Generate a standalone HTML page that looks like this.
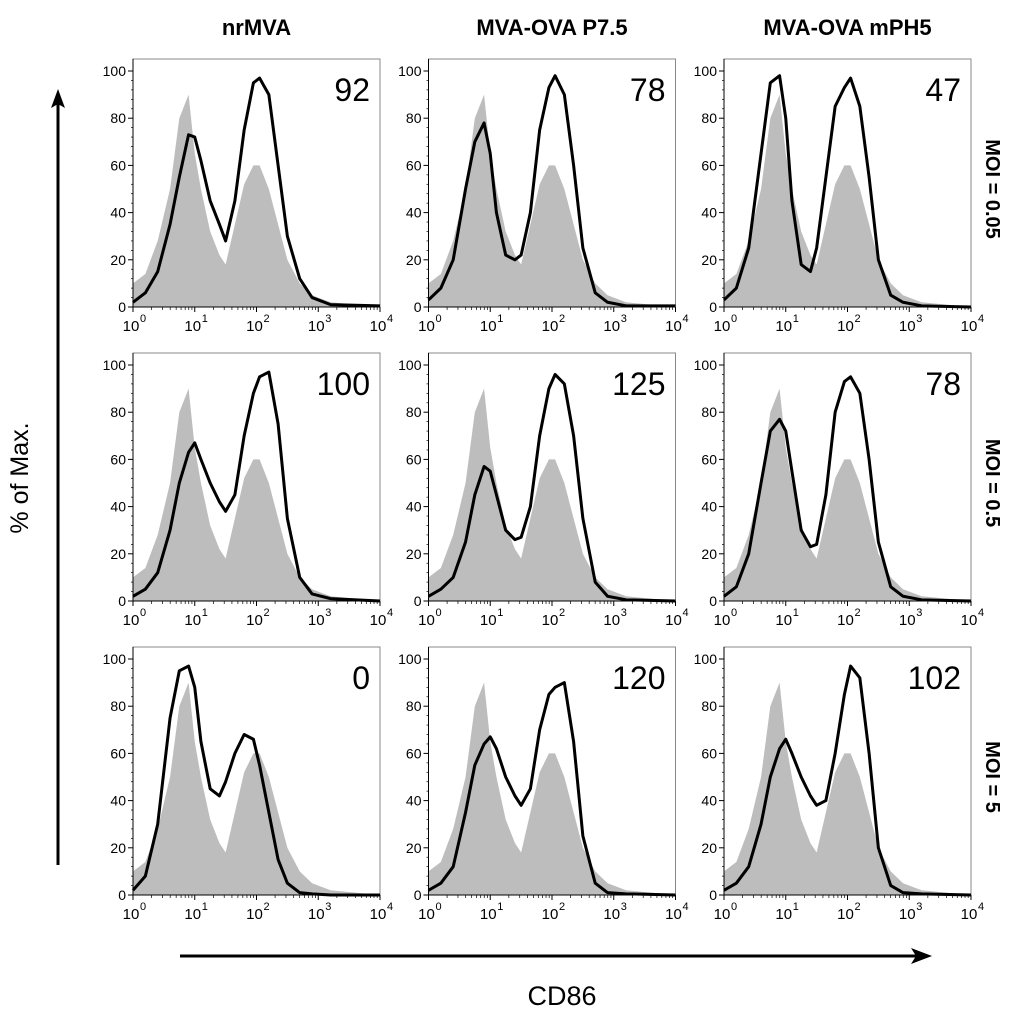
<!DOCTYPE html>
<html><head><meta charset="utf-8"><style>
body{margin:0;background:#fff;}
svg{display:block;font-family:"Liberation Sans",Arial,sans-serif;}
</style></head><body>
<svg id="c" width="1024" height="1017" viewBox="0 0 1024 1017"></svg>
<script>
const colTitles=["nrMVA","MVA-OVA P7.5","MVA-OVA mPH5"];
const rowTitles=["MOI = 0.05","MOI = 0.5","MOI = 5"];
const panelValues=[["92","78","47"],["100","125","78"],["0","120","102"]];
const logX=[0,0.2,0.4,0.6,0.75,0.9,1.0,1.1,1.25,1.4,1.5,1.65,1.8,1.95,2.05,2.2,2.35,2.5,2.7,2.9,3.2,4];
const grayY=[10,14,28,50,80,90,65,50,32,22,18,35,52,60,60,50,35,20,10,5,2,0];
const black_r0c0=[2,6,15,35,55,73,72,62,45,35,28,45,75,95,97,90,60,30,12,4,1,0.5];
const black_r0c1=[3,8,20,50,70,78,65,40,22,20,22,40,75,93,98,90,60,25,6,2,0.5,0.5];
const black_r0c2=[3,8,25,65,95,98,80,45,18,15,25,55,85,93,97,85,55,20,5,2,0.5,0];
const black_r1c0=[2,5,12,30,50,63,67,60,50,42,38,45,70,88,95,97,75,35,10,3,1,0];
const black_r1c1=[2,5,10,25,45,57,55,45,30,26,27,40,70,90,96,92,70,35,8,2,0.5,0];
const black_r1c2=[2,6,20,50,72,77,72,55,30,23,24,45,80,93,95,88,60,25,6,2,0.5,0];
const black_r2c0=[2,8,30,75,95,97,88,65,45,42,48,60,68,66,55,35,15,5,1,0.5,0,0];
const black_r2c1=[2,5,12,35,55,64,67,62,50,42,38,45,70,85,88,90,65,25,5,1,0.5,0];
const black_r2c2=[2,5,12,30,50,62,66,60,50,42,38,40,60,85,97,92,60,20,4,1,0.5,0];
const blackSeries=[[black_r0c0,black_r0c1,black_r0c2],[black_r1c0,black_r1c1,black_r1c2],[black_r2c0,black_r2c1,black_r2c2]];
const yTicks=[0,20,40,60,80,100];
const xTicks=[0,1,2,3,4];

const NS="http://www.w3.org/2000/svg";
const svg=document.getElementById('c');
function mk(tag,attrs,parent){const e=document.createElementNS(NS,tag);for(const k in attrs)e.setAttribute(k,attrs[k]);(parent||svg).appendChild(e);return e;}
const colX=[133,428.5,724], rowY0=[307,601,895], PW=247, FRAMEH=248, YS=2.36;

colTitles.forEach((t,i)=>{const e=mk('text',{x:colX[i]+PW/2,y:35,'text-anchor':'middle','font-size':22,'font-weight':'bold'});e.textContent=t;

});
rowTitles.forEach((t,i)=>{const cy=rowY0[i]-118;const e=mk('text',{x:0,y:0,'text-anchor':'middle','font-size':20,'font-weight':'bold',transform:`translate(986,${cy}) rotate(90)`});e.textContent=t;

});

for(let r=0;r<3;r++)for(let c=0;c<3;c++){
  const g=mk('g',{});
  
  
  const x0=colX[c], y0=rowY0[r];
  const sx=v=>x0+v*PW/4, sy=v=>y0-v*YS;
  mk('rect',{x:x0,y:y0-FRAMEH,width:PW,height:FRAMEH,fill:'#fff',stroke:'#888','stroke-width':1},g);
  let d=`M${sx(0)},${sy(0)}`;logX.forEach((v,i)=>d+=` L${sx(v)},${sy(grayY[i])}`);d+=` L${sx(4)},${sy(0)}Z`;
  const gp=mk('path',{d,fill:'#bdbdbd',stroke:'none'},g);
  
  
  const bs=blackSeries[r][c];let d2='';logX.forEach((v,i)=>d2+=(i?' L':'M')+sx(v)+','+sy(bs[i]));
  const bp=mk('path',{d:d2,fill:'none',stroke:'#000','stroke-width':3,'stroke-linejoin':'round'},g);
  
  
  mk('line',{x1:x0,y1:y0,x2:x0+PW,y2:y0,stroke:'#000','stroke-width':1},g);
  mk('line',{x1:x0,y1:y0,x2:x0,y2:y0-FRAMEH,stroke:'#000','stroke-width':1},g);
  yTicks.forEach(t=>{mk('line',{x1:x0-5,y1:sy(t),x2:x0,y2:sy(t),stroke:'#000'},g);
    const tx=mk('text',{x:x0-7,y:sy(t)+5,'text-anchor':'end','font-size':14},g);tx.textContent=t;});
  for(let t=0;t<100;t+=4){if(t%20)mk('line',{x1:x0-2,y1:sy(t),x2:x0,y2:sy(t),stroke:'#000','stroke-width':0.7},g);}
  xTicks.forEach(t=>{mk('line',{x1:sx(t),y1:y0,x2:sx(t),y2:y0+5,stroke:'#000'},g);
    const tx=mk('text',{x:sx(t)-2,y:y0+24,'text-anchor':'middle','font-size':15},g);tx.textContent='10';
    const sp=mk('text',{x:sx(t)+7,y:y0+15,'font-size':11},g);sp.textContent=t;
    if(t<4)for(let m=2;m<10;m++)mk('line',{x1:sx(t+Math.log10(m)),y1:y0,x2:sx(t+Math.log10(m)),y2:y0+3,stroke:'#000','stroke-width':0.7},g);});
  const nv=mk('text',{x:x0+PW-10,y:y0-206,'text-anchor':'end','font-size':32},g);nv.textContent=panelValues[r][c];
  
  
}
const ya=mk('g',{});


mk('line',{x1:58,y1:865,x2:58,y2:100,stroke:'#000','stroke-width':3},ya);
mk('path',{d:'M58,89 L51,108 L58,104 L65,108Z',fill:'#000'},ya);
const yt=mk('text',{x:0,y:0,'text-anchor':'middle','font-size':25,transform:'translate(28,478) rotate(-90)'});yt.textContent='% of  Max.';


const xa=mk('g',{});


mk('line',{x1:180,y1:956,x2:920,y2:956,stroke:'#000','stroke-width':3},xa);
mk('path',{d:'M932,956 L911,948 L916,956 L911,964Z',fill:'#000'},xa);
const xt=mk('text',{x:562,y:1005,'text-anchor':'middle','font-size':27});xt.textContent='CD86';


</script>
</body></html>
